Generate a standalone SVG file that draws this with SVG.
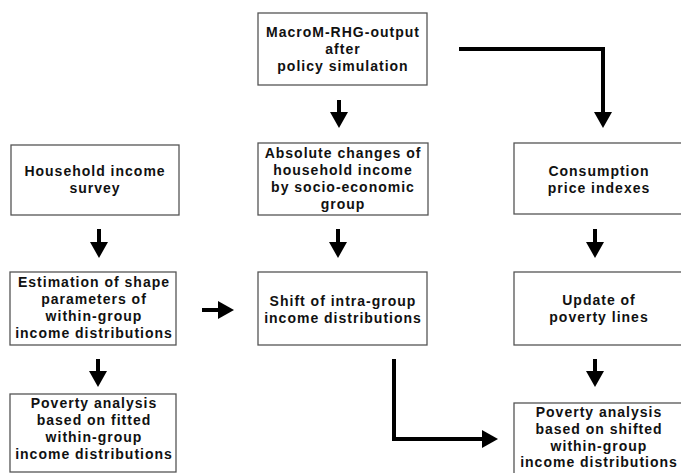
<svg xmlns="http://www.w3.org/2000/svg" width="681" height="473" viewBox="0 0 681 473">
<defs>
<style>
.box{fill:#fff;stroke:#555;stroke-width:1.3}
.t{font-family:"Liberation Sans",Arial,sans-serif;font-weight:bold;font-size:14px;letter-spacing:1px;fill:#111;text-anchor:middle}
.c{fill:none;stroke:#000;stroke-width:4;stroke-linejoin:miter}
</style>
<marker id="ah" markerUnits="userSpaceOnUse" markerWidth="16" markerHeight="18" refX="1" refY="9" orient="auto">
<path d="M0,0 L16,9 L0,18 z" fill="#000"/>
</marker>
</defs>
<rect width="681" height="473" fill="#fff"/>

<g id="n-macro">
<rect class="box" x="258" y="13" width="169" height="72"/>
<text class="t" x="343" y="37">MacroM-RHG-output</text>
<text class="t" x="343" y="54">after</text>
<text class="t" x="343" y="71">policy simulation</text>
</g>

<g id="n-household">
<rect class="box" x="11" y="145" width="168" height="70"/>
<text class="t" x="95" y="176">Household income</text>
<text class="t" x="95" y="193">survey</text>
</g>

<g id="n-absolute">
<rect class="box" x="258" y="143" width="170" height="72"/>
<text class="t" x="343" y="158">Absolute changes of</text>
<text class="t" x="343" y="175">household income</text>
<text class="t" x="343" y="192">by socio-economic</text>
<text class="t" x="343" y="209">group</text>
</g>

<g id="n-consumption">
<rect class="box" x="514" y="143" width="172" height="71"/>
<text class="t" x="599" y="176">Consumption</text>
<text class="t" x="599" y="193">price indexes</text>
</g>

<g id="n-estimation">
<rect class="box" x="10" y="272" width="166" height="73"/>
<text class="t" x="94" y="287">Estimation of shape</text>
<text class="t" x="94" y="304">parameters of</text>
<text class="t" x="94" y="321">within-group</text>
<text class="t" x="94" y="338">income distributions</text>
</g>

<g id="n-shift">
<rect class="box" x="258" y="272" width="169" height="73"/>
<text class="t" x="343" y="306">Shift of intra-group</text>
<text class="t" x="343" y="323">income distributions</text>
</g>

<g id="n-update">
<rect class="box" x="514" y="272" width="172" height="73"/>
<text class="t" x="599" y="305">Update of</text>
<text class="t" x="599" y="322">poverty lines</text>
</g>

<g id="n-poverty-fitted">
<rect class="box" x="10" y="394" width="166" height="78"/>
<text class="t" x="94" y="408">Poverty analysis</text>
<text class="t" x="94" y="425">based on fitted</text>
<text class="t" x="94" y="442">within-group</text>
<text class="t" x="94" y="459">income distributions</text>
</g>

<g id="n-poverty-shifted">
<rect class="box" x="514" y="403" width="172" height="80"/>
<text class="t" x="599" y="417">Poverty analysis</text>
<text class="t" x="599" y="434">based on shifted</text>
<text class="t" x="599" y="451">within-group</text>
<text class="t" x="599" y="467">income distributions</text>
</g>

<g id="connectors">
<path class="c" d="M339,100 V113" marker-end="url(#ah)"/>
<path class="c" d="M459,49 H603 V113" marker-end="url(#ah)"/>
<path class="c" d="M99,229 V243" marker-end="url(#ah)"/>
<path class="c" d="M338,229 V243" marker-end="url(#ah)"/>
<path class="c" d="M595,229 V243" marker-end="url(#ah)"/>
<path class="c" d="M202,310 H219" marker-end="url(#ah)"/>
<path class="c" d="M98,359 V372" marker-end="url(#ah)"/>
<path class="c" d="M595,359 V372" marker-end="url(#ah)"/>
<path class="c" d="M394,359 V439 H483" marker-end="url(#ah)"/>
</g>
</svg>
